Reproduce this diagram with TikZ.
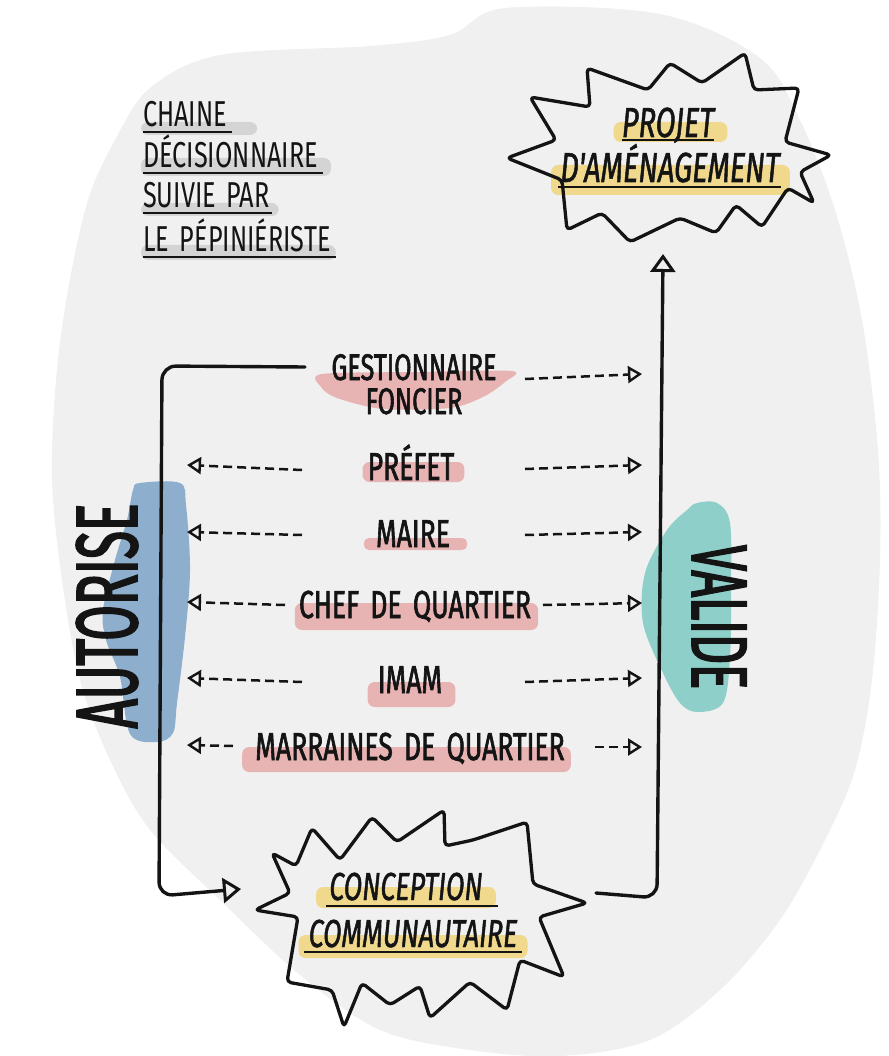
\documentclass[tikz,border=0pt]{standalone}
\usepackage{fontspec}
\newfontfamily\hand[FakeStretch=0.68,FakeBold=1.6,WordSpace=1.6]{Fira Sans}
\newfontfamily\handT[FakeStretch=0.7,WordSpace=1.6]{Fira Sans}
\newfontfamily\handI[FakeStretch=0.69,FakeBold=1.2,WordSpace=1.6]{Fira Sans}
\newfontfamily\handN[FakeStretch=0.59,FakeBold=2]{Fira Sans}
\usetikzlibrary{arrows.meta,calc}
\definecolor{bgblob}{HTML}{F0F0F0}
\definecolor{pinkhl}{HTML}{E8B3B3}
\definecolor{yellowhl}{HTML}{F0D98C}
\definecolor{grayhl}{HTML}{D4D4D4}
\definecolor{bluehl}{HTML}{8DAECD}
\definecolor{tealhl}{HTML}{8FCFC9}
\definecolor{ink}{HTML}{141414}
\pgfdeclarelayer{back}
\pgfdeclarelayer{hl}
\pgfsetlayers{back,hl,main}
\begin{document}
\begin{tikzpicture}[x=1pt,y=-1pt,
  lbl/.style={font=\hand\fontsize{39}{31}\selectfont, text=ink, inner sep=0pt, anchor=base},
  ttl/.style={font=\handT\fontsize{36}{41}\selectfont, text=ink, inner sep=0pt, anchor=base west},
  bursttxt/.style={font=\handI\itshape\fontsize{42}{45}\selectfont, text=ink, inner sep=0pt, anchor=base},
  burst/.style={draw=ink, line width=3.3pt, line join=round, rounded corners=4pt},
  conn/.style={draw=ink, line width=3.4pt, line cap=round, rounded corners=14pt},
  bigtip/.style={-{Triangle[open,length=18pt,width=25pt,line width=3pt]}},
  dasharrow/.style={draw=ink, line width=2.5pt, dash pattern=on 9pt off 5pt, -{Triangle[open,length=14pt,width=17pt,line width=2.4pt]}},
  uline/.style={draw=ink, line width=2pt},
  smear/.style={rounded corners=7pt}
]
\useasboundingbox (0,0) rectangle (888,1056);

% background blob
\begin{pgfonlayer}{back}
\fill[bgblob] plot[smooth cycle, tension=0.55] coordinates {(150,88) (220,55) (370,46) (450,35) (505,8) (660,14) (760,58) (800,120) (835,210) (862,320) (878,450) (880,560) (872,680) (855,770) (825,840) (780,920) (720,990) (650,1040) (560,1056) (470,1050) (380,1030) (300,975) (220,900) (150,830) (110,760) (80,680) (62,580) (52,480) (56,380) (68,290) (88,200) (115,140)};
\end{pgfonlayer}

% title
\node[ttl] (t1) at (143,127) {CHAINE};
\node[ttl] (t2) at (143,168) {DÉCISIONNAIRE};
\node[ttl] (t3) at (143,208) {SUIVIE PAR};
\node[ttl] (t4) at (143,252) {LE PÉPINIÉRISTE};
\begin{pgfonlayer}{hl}
\fill[grayhl,smear] ($(t1.base west)+(-2,-5)$) rectangle ($(t1.base east)+(30,8)$);
\fill[grayhl,smear] ($(t2.base west)+(-2,-10)$) rectangle ($(t2.base east)+(13,8)$);
\fill[grayhl,smear] ($(t3.base west)+(-2,-5)$) rectangle ($(t3.base east)+(9,8)$);
\fill[grayhl,smear] ($(t4.base west)+(-2,-7)$) rectangle ($(t4.base east)+(5,8)$);
\end{pgfonlayer}
\foreach \n/\e in {t1/5,t2/5,t3/2,t4/5}{
  \draw[uline] ($(\n.base west)+(0,5)$) -- ($(\n.base east)+(\e,5)$);
}

% top starburst
\draw[burst] (507,158) -- (556,140) -- (530,97) -- (590,107) -- (587,68) -- (648,90) -- (670,63) -- (702,83) -- (745,53) -- (754,90) -- (799,88) -- (785,142) -- (831,155) -- (800,172) -- (814,203) -- (788,188) -- (762,227) -- (736,205) -- (716,233) -- (680,218) -- (630,242) -- (602,213) -- (567,230) -- (562,180) -- cycle;
\node[bursttxt] (projet) at (668,137) {PROJET};
\node[bursttxt] (amenag) at (670,182) {D'AMÉNAGEMENT};
\begin{pgfonlayer}{hl}
\fill[yellowhl,smear] ($(projet.base west)+(-8,-15)$) rectangle ($(projet.base east)+(13,5)$);
\fill[yellowhl,smear] ($(amenag.base west)+(-9,-17)$) rectangle ($(amenag.base east)+(10,13)$);
\end{pgfonlayer}
\draw[uline] ($(projet.base west)+(0,3)$) -- ($(projet.base east)+(0,3)$);
\draw[uline] ($(amenag.base west)+(-2,5)$) -- ($(amenag.base east)+(1,5)$);

% bottom starburst
\draw[burst] (255,910) -- (290,893) -- (272,853) -- (296,866) -- (312,828) -- (340,860) -- (372,817) -- (397,842) -- (444,810) -- (445,846) -- (473,840) -- (527,822) -- (533,884) -- (587,903) -- (539,917) -- (564,977) -- (520,960) -- (507,1010) -- (470,982) -- (430,1018) -- (420,986) -- (390,1005) -- (362,983) -- (344,1027) -- (332,990) -- (287,982) -- (298,917) -- cycle;
\node[bursttxt, font=\handI\itshape\fontsize{39}{45}\selectfont] (concep) at (406,900) {CONCEPTION};
\node[bursttxt, font=\handI\itshape\fontsize{39}{45}\selectfont] (commun) at (413,947) {COMMUNAUTAIRE};
\begin{pgfonlayer}{hl}
\fill[yellowhl,smear] ($(concep.base west)+(-13,-13)$) rectangle ($(concep.base east)+(13,8)$);
\fill[yellowhl,smear] ($(commun.base west)+(-10,-12)$) rectangle ($(commun.base east)+(10,11)$);
\end{pgfonlayer}
\draw[uline] ($(concep.base west)+(-3,6)$) -- ($(concep.base east)+(15,6)$);
\draw[uline] ($(commun.base west)+(-5,5)$) -- ($(commun.base east)+(4,5)$);

% actor labels
\node[lbl, font=\hand\fontsize{37}{31}\selectfont] (gest) at (414,380) {GESTIONNAIRE};
\node[lbl, font=\hand\fontsize{37}{31}\selectfont] (foncier) at (414,414) {FONCIER};
\node[lbl] (prefet) at (411,480) {PRÉFET};
\node[lbl] (maire) at (413,547) {MAIRE};
\node[lbl] (chef) at (415,618) {CHEF DE QUARTIER};
\node[lbl] (imam) at (410,693) {IMAM};
\node[lbl] (marr) at (410,760) {MARRAINES DE QUARTIER};

\begin{pgfonlayer}{hl}
\fill[pinkhl] plot[smooth cycle, tension=0.5] coordinates {(322,374) (420,372) (512,371) (505,382) (483,397) (450,408) (383,409) (337,398) (321,387)};
\fill[pinkhl,smear] ($(prefet.base west)+(-5,-18)$) rectangle ($(prefet.base east)+(10,2)$);
\fill[pinkhl,rounded corners=5pt] ($(maire.base west)+(-12,-9)$) rectangle ($(maire.base east)+(17,3)$);
\fill[pinkhl,smear] ($(chef.base west)+(-4,-15)$) rectangle ($(chef.base east)+(7,12)$);
\fill[pinkhl,smear] ($(imam.base west)+(-10,-11)$) rectangle ($(imam.base east)+(13,14)$);
\fill[pinkhl,smear] ($(marr.base west)+(-13,-13)$) rectangle ($(marr.base east)+(6,12)$);
% blue and teal blobs
\fill[bluehl] plot[smooth cycle, tension=0.55] coordinates {(140,483) (180,483) (186,505) (190,570) (185,637) (177,703) (173,733) (157,742) (130,734) (120,677) (106,640) (103,610) (115,560) (127,520) (133,490)};
\fill[tealhl] plot[smooth cycle, tension=0.55] coordinates {(697,503) (717,503) (730,523) (731,590) (730,657) (723,703) (697,712) (680,703) (663,673) (643,623) (645,573) (667,530) (687,510)};
\end{pgfonlayer}

\node[font=\handN\fontsize{87}{87}\selectfont, text=ink, inner sep=0pt, rotate=90, anchor=base] (autorise) at (137,616) {AUTORISE};
\node[font=\handN\fontsize{79}{79}\selectfont, text=ink, inner sep=0pt, rotate=-90, anchor=base] (valide) at (692,617) {VALIDE};

% main connectors
\coordinate (gstart) at (305,367);
\coordinate (lc1) at (162,366);
\coordinate (lc2) at (159,896);
\coordinate (conin) at (241,889);
\draw[conn, bigtip] (gstart) -- (lc1) -- (lc2) -- (conin);

\coordinate (conout) at (596,893);
\coordinate (rc1) at (657,898);
\coordinate (projin) at (663,254);
\draw[conn, bigtip] (conout) -- (rc1) -- (projin);

% dashed arrows
\coordinate (gR1) at (525,379); \coordinate (gR2) at (642,374);
\coordinate (pL1) at (302,470); \coordinate (pL2) at (187,465);
\coordinate (pR1) at (525,469); \coordinate (pR2) at (642,465);
\coordinate (mL1) at (302,535); \coordinate (mL2) at (187,532);
\coordinate (mR1) at (525,535); \coordinate (mR2) at (642,532);
\coordinate (cL1) at (285,605); \coordinate (cL2) at (187,602);
\coordinate (cR1) at (543,605); \coordinate (cR2) at (642,603);
\coordinate (iL1) at (302,682); \coordinate (iL2) at (187,678);
\coordinate (iR1) at (525,682); \coordinate (iR2) at (642,678);
\coordinate (aL1) at (233,746); \coordinate (aL2) at (187,745);
\coordinate (aR1) at (595,747); \coordinate (aR2) at (642,747);
\foreach \a/\b in {gR1/gR2,pL1/pL2,pR1/pR2,mL1/mL2,mR1/mR2,cL1/cL2,cR1/cR2,iL1/iL2,iR1/iR2,aL1/aL2,aR1/aR2}{
  \draw[dasharrow] (\a) -- (\b);
}
\end{tikzpicture}
\end{document}
